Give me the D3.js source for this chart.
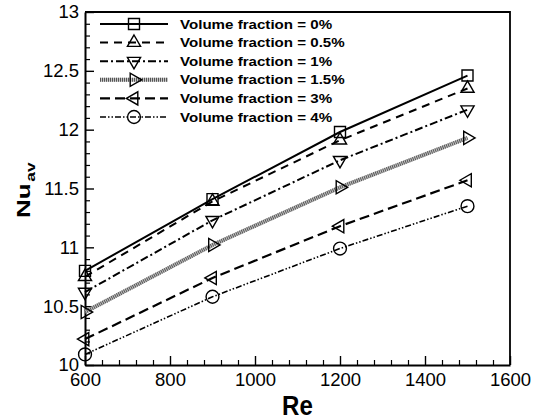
<!DOCTYPE html>
<html>
<head>
<meta charset="utf-8">
<script src="https://cdn.jsdelivr.net/npm/d3@7"></script>
<style>
    body { margin: 0; background: #fff; }
    svg { display: block; font-family: "Liberation Sans", Arial, sans-serif; }
</style>
</head>
<body>
<div id="chart"></div>
<script>
var reValues = [600, 900, 1200, 1500];
var fractions = ["0%", "0.5%", "1%", "1.5%", "3%", "4%"];
var nu0 = [10.80, 11.41, 11.98, 12.46];
var nu05 = [10.75, 11.39, 11.91, 12.35];
var nu1 = [10.62, 11.23, 11.74, 12.17];
var nu15 = [10.45, 11.02, 11.51, 11.93];
var nu3 = [10.22, 10.74, 11.18, 11.57];
var nu4 = [10.09, 10.58, 10.99, 11.35];
var xTicks = [600, 800, 1000, 1200, 1400, 1600];
var yTicks = [10, 10.5, 11, 11.5, 12, 12.5, 13];

var series = [
    { name: fractions[0], values: nu0, dash: null, width: 2, marker: "square" },
    { name: fractions[1], values: nu05, dash: "8,6", width: 2, marker: "up" },
    { name: fractions[2], values: nu1, dash: "8,3,2,3", width: 2, marker: "down" },
    { name: fractions[3], values: nu15, dash: "1,1", width: 4, marker: "right", gray: true },
    { name: fractions[4], values: nu3, dash: "10,5", width: 2.2, marker: "left" },
    { name: fractions[5], values: nu4, dash: "6,2,1.5,2,1.5,2", width: 1.6, marker: "circle" }
];

var width = 543, height = 420;
var plotLeft = 85, plotRight = 510, plotTop = 12, plotBottom = 365;

var svg = d3.select("#chart").append("svg")
    .attr("width", width)
    .attr("height", height);

var x = d3.scaleLinear().domain([600, 1600]).range([plotLeft, plotRight]);
var y = d3.scaleLinear().domain([10, 13]).range([plotBottom, plotTop]);

// minor ticks
var xMinor = d3.range(600, 1601, 40).filter(function (v) { return v % 200 !== 0; });
var yMinor = d3.range(0, 31).map(function (i) { return 10 + i / 10; })
    .filter(function (v) { return Math.abs(v * 2 - Math.round(v * 2)) > 1e-6; });

svg.append("g")
    .attr("transform", "translate(0," + plotBottom + ")")
    .call(d3.axisBottom(x).tickValues(xMinor).tickSizeInner(-5).tickSizeOuter(0).tickFormat(""))
    .call(function (g) { g.select(".domain").remove(); g.selectAll("line").attr("stroke-width", 1.2); });

svg.append("g")
    .attr("transform", "translate(" + plotLeft + ",0)")
    .call(d3.axisLeft(y).tickValues(yMinor).tickSizeInner(-5).tickSizeOuter(0).tickFormat(""))
    .call(function (g) { g.select(".domain").remove(); g.selectAll("line").attr("stroke-width", 1.2); });

var xAxis = svg.append("g")
    .attr("transform", "translate(0," + plotBottom + ")")
    .call(d3.axisBottom(x).tickValues(xTicks).tickSizeInner(-9).tickSizeOuter(0).tickPadding(8)
        .tickFormat(d3.format("d")));

var yAxis = svg.append("g")
    .attr("transform", "translate(" + plotLeft + ",0)")
    .call(d3.axisLeft(y).tickValues(yTicks).tickSizeInner(-9).tickSizeOuter(0).tickPadding(6)
        .tickFormat(d3.format("")));

[xAxis, yAxis].forEach(function (g) {
    g.select(".domain").attr("stroke-width", 2);
    g.selectAll(".tick line").attr("stroke-width", 1.4);
    g.selectAll(".tick text")
        .attr("fill", "#000")
        .style("font-size", "18.5px")
        .style("font-family", "'Liberation Sans', Arial, sans-serif");
});

// frame top and right
svg.append("path")
    .attr("d", "M" + plotLeft + "," + plotTop + "H" + plotRight + "V" + plotBottom)
    .attr("fill", "none")
    .attr("stroke", "#000")
    .attr("stroke-width", 1.8);

// axis titles
svg.append("text")
    .attr("transform", "translate(" + ((plotLeft + plotRight) / 2) + ",415) scale(0.86,1)")
    .attr("text-anchor", "middle")
    .style("font-size", "28px")
    .style("font-weight", "bold")
    .text("Re");

var yLabel = svg.append("text")
    .attr("transform", "translate(30,218) rotate(-90) scale(1.45,1)")
    .style("font-size", "18px")
    .style("font-weight", "bold");
yLabel.append("tspan").text("Nu");
yLabel.append("tspan")
    .attr("dy", 5)
    .attr("dx", 1)
    .style("font-size", "12px")
    .text("av");

function markerPath(type) {
    if (type === "square") return d3.symbol(d3.symbolSquare, 121)();
    if (type === "circle") return d3.symbol(d3.symbolCircle, 130)();
    return d3.symbol(d3.symbolTriangle, 75)();
}
function markerRotate(type) {
    return { down: 180, right: 90, left: -90 }[type] || 0;
}

function drawLine(g, s, pts) {
    var line = d3.line()
        .x(function (d) { return d[0]; })
        .y(function (d) { return d[1]; });
    if (s.gray) {
        g.append("path")
            .attr("d", line(pts))
            .attr("fill", "none")
            .attr("stroke", "#c4c4c4")
            .attr("stroke-width", s.width);
    }
    g.append("path")
        .attr("d", line(pts))
        .attr("fill", "none")
        .attr("stroke", s.gray ? "#555" : "#000")
        .attr("stroke-width", s.width)
        .attr("stroke-dasharray", s.dash);
}

function drawMarker(g, s, cx, cy) {
    g.append("path")
        .attr("d", markerPath(s.marker))
        .attr("transform", "translate(" + cx + "," + cy + ") rotate(" + markerRotate(s.marker) + ")")
        .attr("fill", "none")
        .attr("stroke", "#000")
        .attr("stroke-width", 1.4);
}

series.forEach(function (s) {
    var g = svg.append("g");
    var pts = reValues.map(function (r, i) { return [x(r), y(s.values[i])]; });
    drawLine(g, s, pts);
    pts.forEach(function (p) { drawMarker(g, s, p[0], p[1]); });
});

// legend
var legend = svg.append("g");
series.forEach(function (s, i) {
    var ly = 24 + i * 18.6;
    var g = legend.append("g");
    drawLine(g, s, [[100, ly], [168, ly]]);
    drawMarker(g, s, 134, ly);
    g.append("text")
        .attr("transform", "translate(180," + (ly + 4.5) + ") scale(1.2,1)")
        .style("font-size", "12.6px")
        .style("font-weight", "bold")
        .text("Volume fraction = " + s.name);
});
</script>
</body>
</html>
